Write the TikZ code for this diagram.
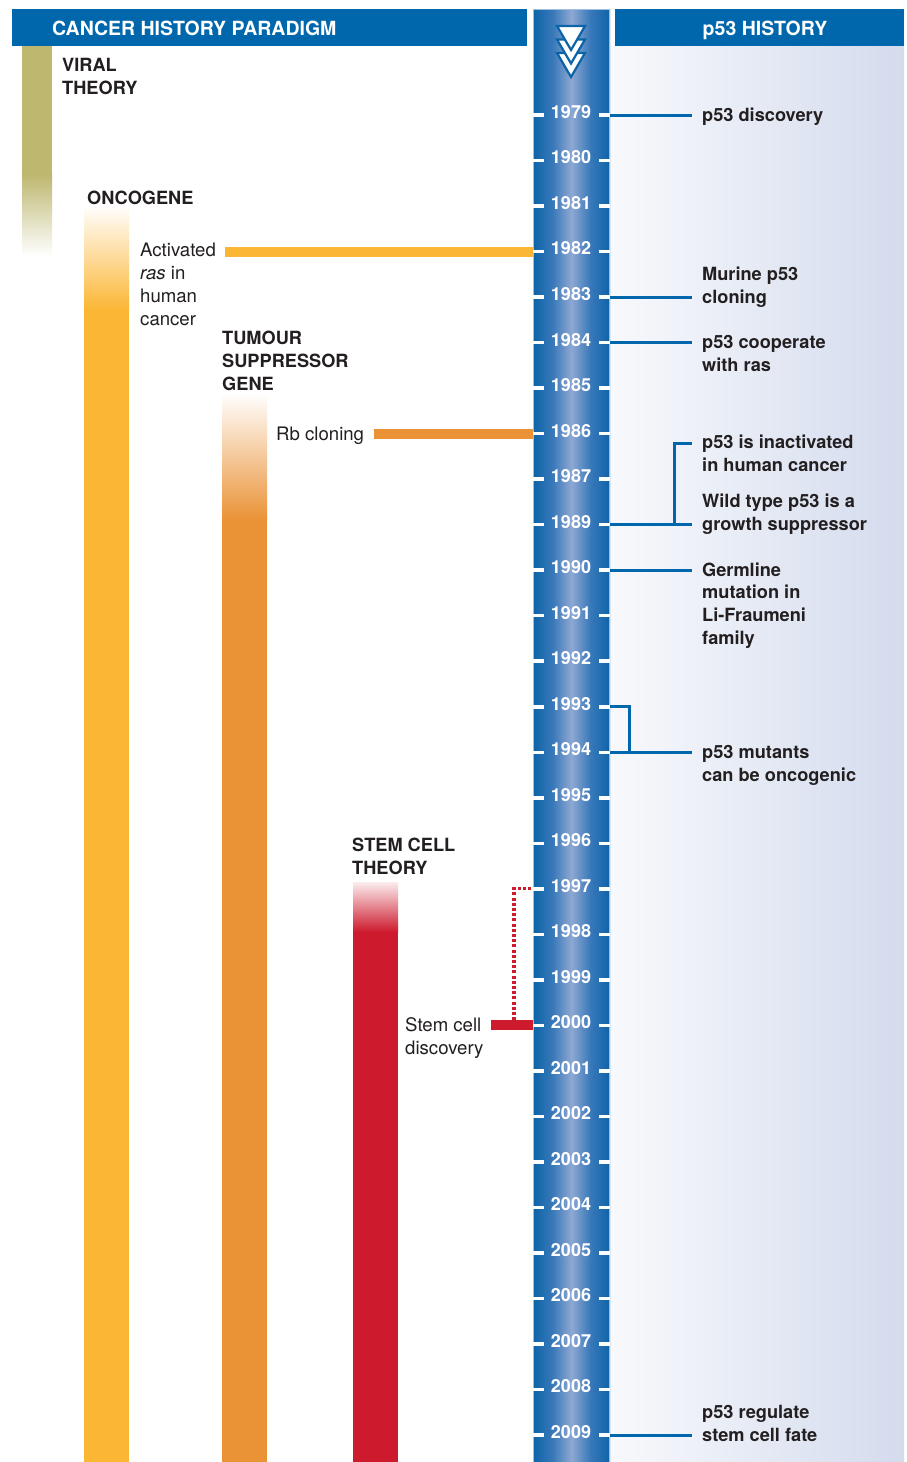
\documentclass[tikz,border=0pt]{standalone}
\usepackage{fontspec}
\setmainfont{TeX Gyre Heros}
\definecolor{hdrblue}{HTML}{0067AC}
\definecolor{tldark}{HTML}{0C64A8}
\definecolor{tlmid}{HTML}{3A79BA}
\definecolor{tllight}{HTML}{8EA8D2}
\definecolor{tledge}{HTML}{9DBFE0}
\definecolor{viralcol}{HTML}{BDB76F}
\definecolor{onccol}{HTML}{FBB634}
\definecolor{tsgcol}{HTML}{EA9236}
\definecolor{stemcol}{HTML}{CD1A2D}
\definecolor{inkcol}{HTML}{231F20}
\definecolor{panelL}{HTML}{F8F9FC}
\definecolor{panelR}{HTML}{D3DBED}
\pgfdeclarehorizontalshading{tlshade}{100bp}{color(0bp)=(tldark); color(25bp)=(tldark);
  color(38bp)=(tlmid); color(50bp)=(tllight); color(62bp)=(tlmid); color(75bp)=(tldark); color(100bp)=(tldark)}
\begin{document}
\begin{tikzpicture}[x=1pt,y=-1pt,
  hdr/.style={font=\bfseries\fontsize{19.5}{23}\selectfont, text=white, inner sep=0, anchor=base},
  ttl/.style={font=\bfseries\fontsize{18.2}{22.75}\selectfont, text=inkcol, inner sep=0, anchor=base west, align=left},
  note/.style={font=\fontsize{18.6}{22.75}\selectfont, text=inkcol, inner sep=0, anchor=base west, align=left},
  yearlbl/.style={font=\bfseries\fontsize{18}{22}\selectfont, text=white, inner sep=0, anchor=base},
  tick/.style={white, line width=3.5},
  pline/.style={hdrblue, line width=3},
  bar/.style={line width=10},
  stemdot/.style={stemcol, line width=3.2, dash pattern=on 3pt off 2.2pt},
  chev/.style={fill=white, draw=tldark, line width=2.2, line join=miter}]
\useasboundingbox (0,0) rectangle (906,1462);
\fill[white] (0,0) rectangle (906,1462);

% headers
\fill[hdrblue] (12,9) rectangle (527,46);
\node[hdr, anchor=base west] (hdrL) at (52,35.5) {CANCER HISTORY PARADIGM};
\fill[hdrblue] (615,9) rectangle (904,46);
\node[hdr] (hdrR) at (765,35.5) {p53 HISTORY};

% p53 panel and time line
\shade[left color=panelL, right color=panelR] (610,46) rectangle (904,1462);
\shade[shading=tlshade] (533,9) rectangle (610,1462);
\draw[tledge, line width=0.8] (533.4,1462) -- (533.4,9.4) -- (609.6,9.4) -- (609.6,1462);
\draw[chev] (557,53) -- (585,53) -- (571,77) -- cycle;
\draw[chev] (557,39.5) -- (585,39.5) -- (571,63.5) -- cycle;
\draw[chev] (557,26) -- (585,26) -- (571,50) -- cycle;

\foreach \yr [count=\i from 0] in {1979,1980,...,1987,1989,1990,...,2009}{
  \pgfmathsetmacro\ty{115+45.52*\i}
  \coordinate (L\yr) at (533,\ty);
  \coordinate (R\yr) at (610,\ty);
  \node[yearlbl] (Y\yr) at (571,\ty+3.4) {\yr};
  \draw[tick] (533,\ty) -- (544,\ty) (599,\ty) -- (610,\ty);
}

% paradigm bars
\fill[viralcol] (22,46) rectangle (52,175);
\shade[top color=viralcol, bottom color=white] (22,174.5) rectangle (52,256);
\shade[top color=white, bottom color=onccol] (84,205) rectangle (129,310);
\fill[onccol] (84,309.5) rectangle (129,1462);
\shade[top color=white, bottom color=tsgcol] (222,393) rectangle (267,520);
\fill[tsgcol] (222,519.5) rectangle (267,1462);
\shade[top color=stemcol!8, bottom color=stemcol] (353,882) rectangle (398,932);
\fill[stemcol] (353,931.5) rectangle (398,1462);

% base = last line
\node[ttl] (viral) at (62,94) {VIRAL\\THEORY};
\node[ttl] (onco) at (87,204) {ONCOGENE};
\node[note] (ras) at (140,325) {Activated\\\textit{ras} in\\human\\cancer};
\node[ttl] (tsg) at (222,390) {TUMOUR\\SUPPRESSOR\\GENE};
\node[note] (rb) at (276,440) {Rb cloning};
\node[ttl] (stem) at (352,874.5) {STEM CELL\\THEORY};
\node[note] (stemdisc) at (405,1054) {Stem cell\\discovery};

\coordinate (rasTip) at (225,0);
\coordinate (rbTip) at (374,0);
\coordinate (stemTip) at (491,0);
\coordinate (dotX) at (514,0);
\draw[bar, onccol] (L1982 -| rasTip) -- (L1982);
\draw[bar, tsgcol] (L1986 -| rbTip) -- (L1986);
\draw[stemdot] (L2000 -| dotX) |- (L1997);
\draw[bar, stemcol] (L2000 -| stemTip) -- (L2000);

% p53 history
\node[ttl] (disc) at (702,121) {p53 discovery};
\node[ttl] (murine) at (702,303.1) {Murine p53\\cloning};
\node[ttl] (coop) at (702,371.3) {p53 cooperate\\with ras};
\node[ttl] (inact) at (702,471.7) {p53 is inactivated\\in human cancer};
\node[ttl] (wild) at (702,530.6) {Wild type p53 is a\\growth suppressor};
\node[ttl] (germ) at (702,644.4) {Germline\\mutation in\\Li-Fraumeni\\family};
\node[ttl] (mut) at (702,781) {p53 mutants\\can be oncogenic};
\node[ttl] (regul) at (702,1441) {p53 regulate\\stem cell fate};

\coordinate (pTip) at (692,0);
\coordinate (brkA) at (629,0);
\coordinate (brkB) at (674,0);
\coordinate (inactTip) at (692,443);
\draw[pline] (R1979) -- (R1979 -| pTip);
\draw[pline] (R1983) -- (R1983 -| pTip);
\draw[pline] (R1984) -- (R1984 -| pTip);
\draw[pline] (R1989 -| brkB) |- (inactTip);
\draw[pline] (R1989) -- (R1989 -| pTip);
\draw[pline] (R1990) -- (R1990 -| pTip);
\draw[pline] (R1993) -| (R1994 -| brkA);
\draw[pline] (R1994) -- (R1994 -| pTip);
\draw[pline] (R2009) -- (R2009 -| pTip);
\end{tikzpicture}
\end{document}
